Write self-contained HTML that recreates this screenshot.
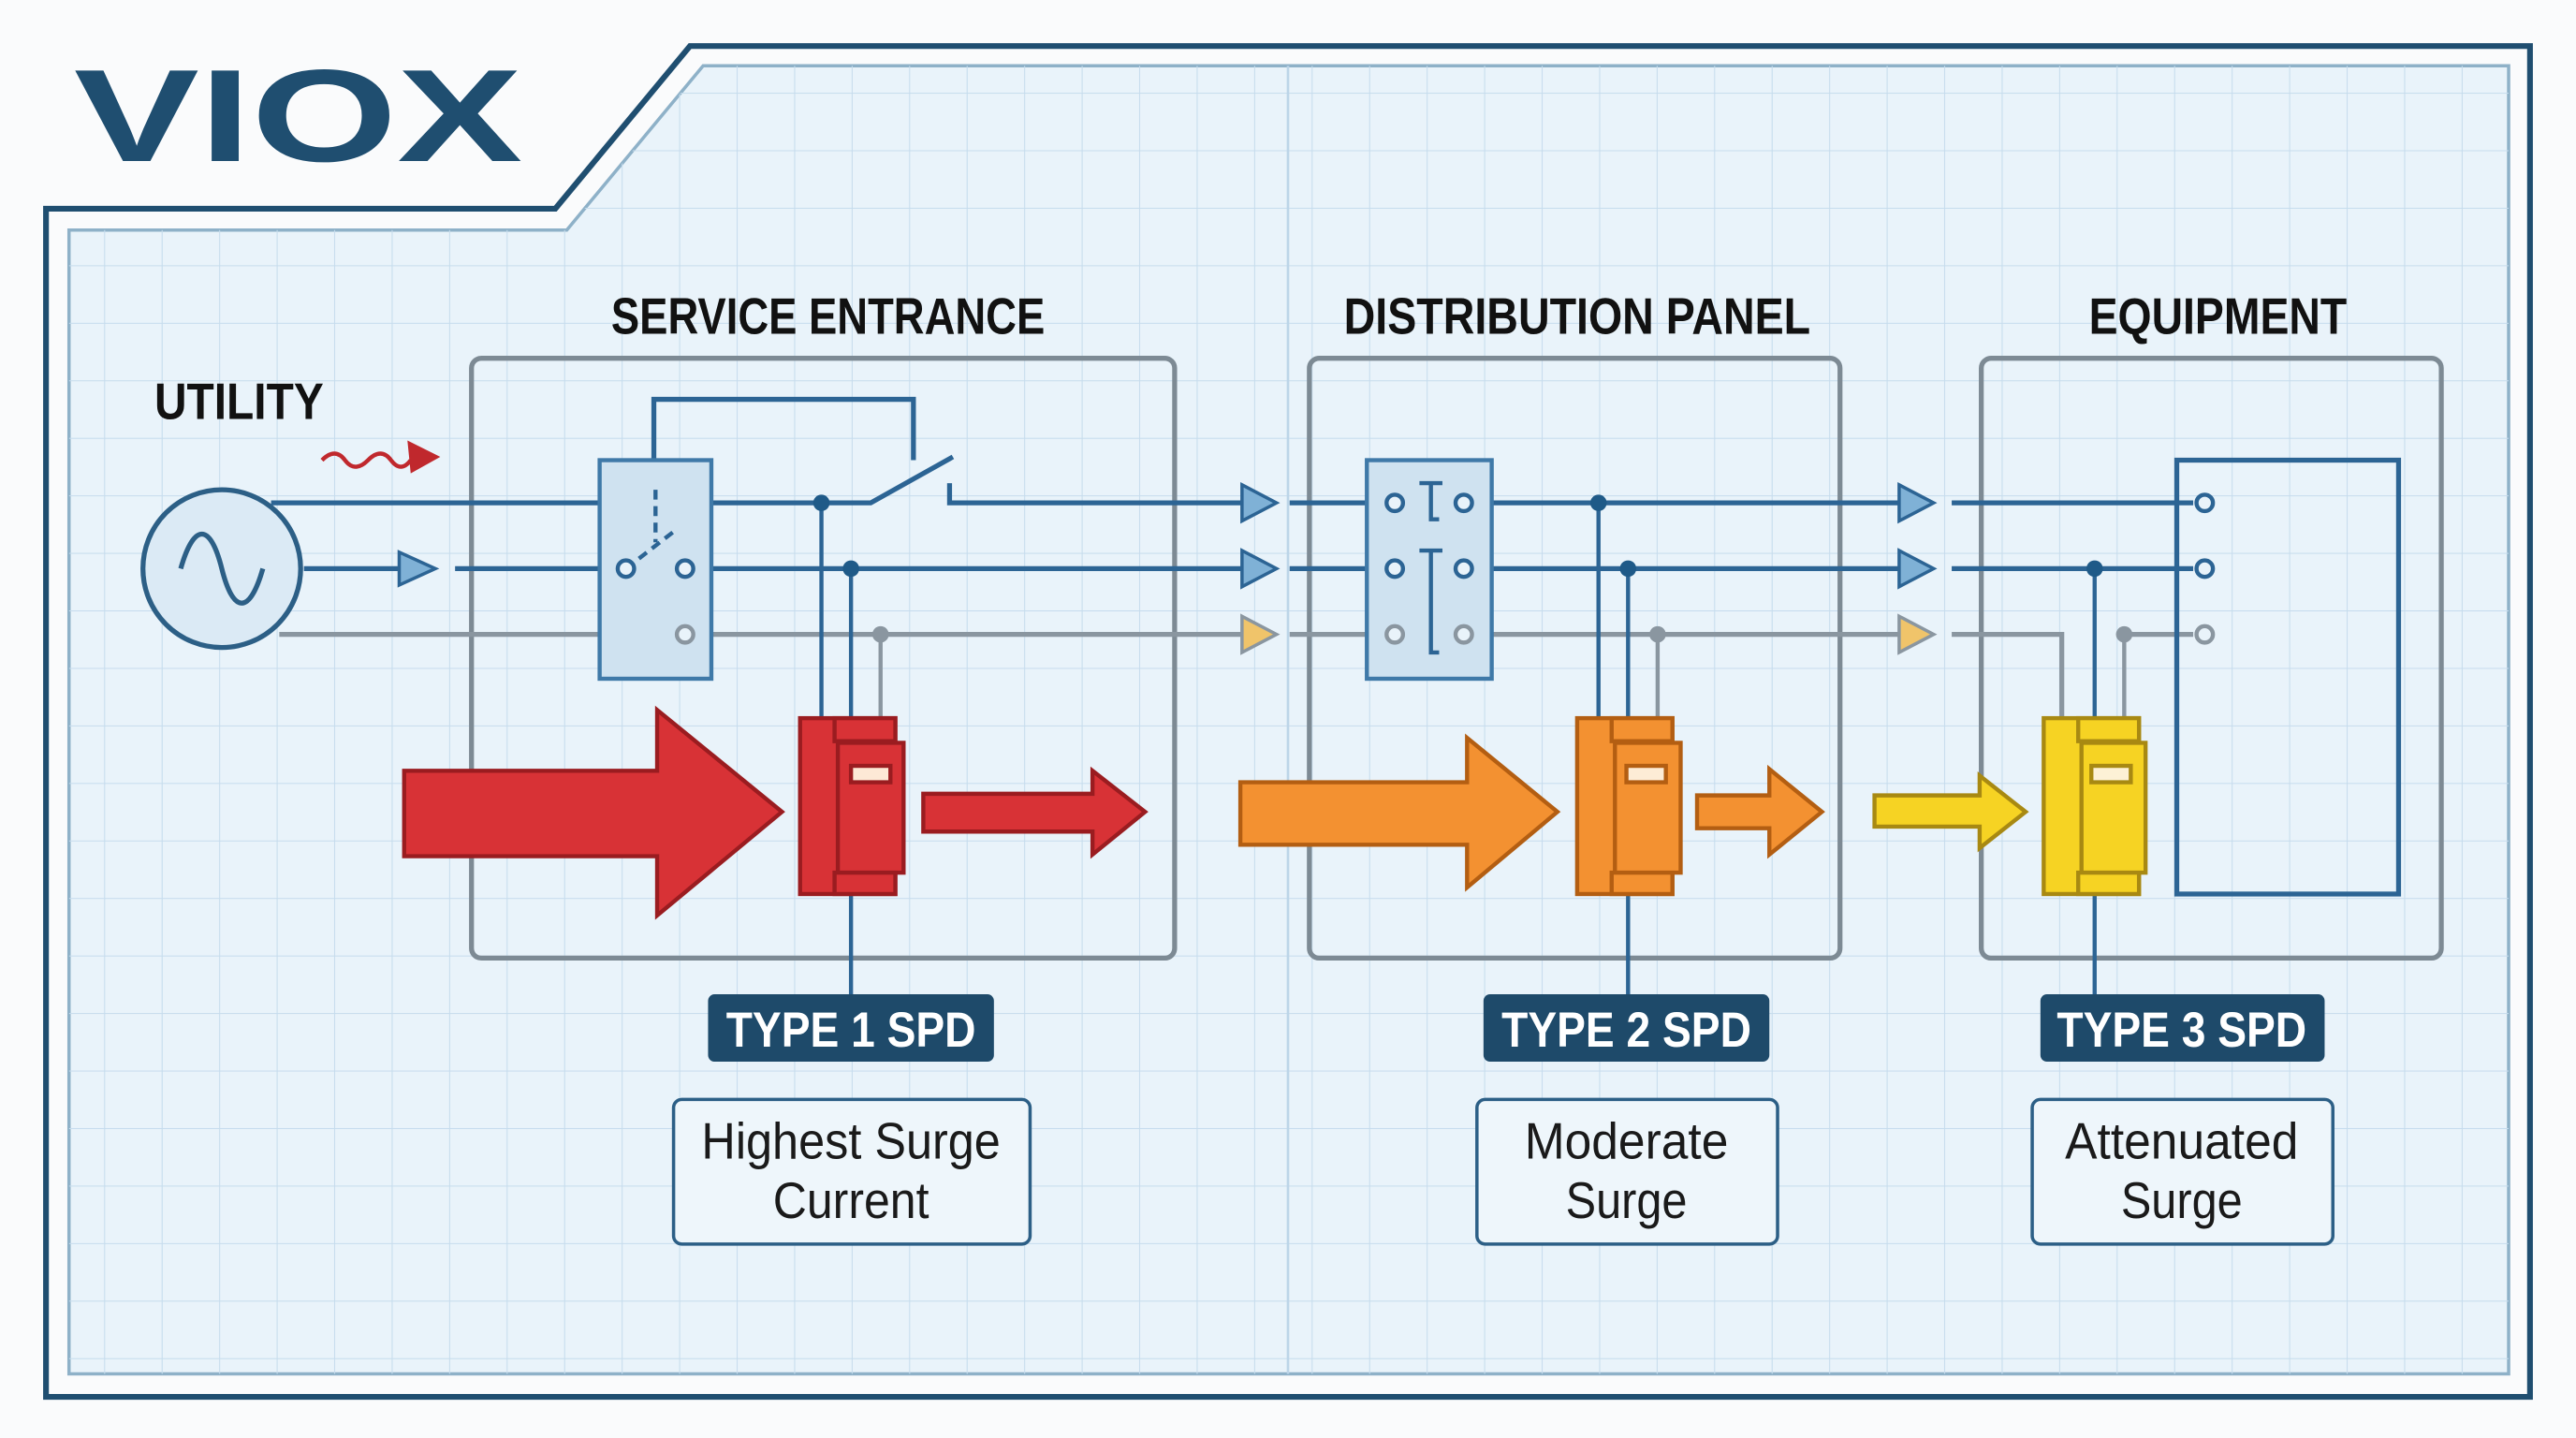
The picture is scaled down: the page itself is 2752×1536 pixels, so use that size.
<!DOCTYPE html>
<html><head><meta charset="utf-8"><style>
html,body{margin:0;padding:0;background:#fafbfc;}
svg{display:block;}
text{font-family:"Liberation Sans Narrow","Liberation Sans",sans-serif;}
</style></head><body>
<svg width="2752" height="1536" viewBox="0 0 1568 875" preserveAspectRatio="none" xmlns="http://www.w3.org/2000/svg">
<defs>
<pattern id="g" x="64" y="22" width="35" height="35" patternUnits="userSpaceOnUse">
<path d="M35 0V35H0" fill="none" stroke="#c6dced" stroke-width="1.2"/>
</pattern>
<clipPath id="ic"><path d="M42 140H345L428 40H1527V836H42Z"/></clipPath>
</defs>
<rect width="1568" height="875" fill="#fafbfc"/>
<path d="M28 850V127H338L420 28H1540V850Z" fill="none" stroke="#1f4e70" stroke-width="3.5"/>
<path d="M42 140H345L428 40H1527V836H42Z" fill="#e9f3fa" stroke="#8eb1c8" stroke-width="2"/>
<g clip-path="url(#ic)">
<rect x="0" y="0" width="1568" height="875" fill="url(#g)"/>
<line x1="784" y1="40" x2="784" y2="836" stroke="#bcd5e8" stroke-width="1.5"/>
</g>
<text x="45" y="98" font-size="80" font-weight="bold" fill="#1f4e70" textLength="273" lengthAdjust="spacingAndGlyphs" style="font-family:'Liberation Sans',sans-serif">VIOX</text>

<g font-weight="bold" fill="#111" font-size="31">
<text x="504" y="203" text-anchor="middle" textLength="264" lengthAdjust="spacingAndGlyphs">SERVICE ENTRANCE</text>
<text x="960" y="203" text-anchor="middle" textLength="284" lengthAdjust="spacingAndGlyphs">DISTRIBUTION PANEL</text>
<text x="1350" y="203" text-anchor="middle" textLength="157" lengthAdjust="spacingAndGlyphs">EQUIPMENT</text>
<text x="94" y="255" textLength="103" lengthAdjust="spacingAndGlyphs">UTILITY</text>
</g>

<g fill="none" stroke="#7d8a94" stroke-width="3">
<rect x="287" y="218" width="428" height="365" rx="6"/>
<rect x="797" y="218" width="323" height="365" rx="6"/>
<rect x="1206" y="218" width="280" height="365" rx="6"/>
</g>

<circle cx="135" cy="346" r="48" fill="#dbeaf5" stroke="#2c5f86" stroke-width="3"/>
<path d="M110 346C118 318 128 318 135 346S152 374 160 346" fill="none" stroke="#2c5f86" stroke-width="3"/>
<path d="M196 280q8-8 14 0t14 0t14 0t12 0" fill="none" stroke="#c0282d" stroke-width="2.5"/>
<path d="M248 268L268 278L250 288Z" fill="#c0282d"/>

<g stroke-width="3" fill="none">
<path d="M165 306H365M433 306H530L580 278M578 294V306H760" stroke="#2c6494"/>
<path d="M185 346H255M277 346H365M425 346H760" stroke="#2c6494"/>
<path d="M170 386H365M425 386H760" stroke="#8a96a0"/>
<path d="M398 280V243H556V280" stroke="#2c6494"/>
<path d="M500 306V437M518 346V437" stroke="#2c6494" stroke-width="2.5"/>
<path d="M536 386V437" stroke="#8a96a0" stroke-width="2.5"/>
<path d="M785 306H832M908 306H1160M785 346H832M908 346H1160" stroke="#2c6494"/>
<path d="M785 386H832M908 386H1160" stroke="#8a96a0"/>
<path d="M973 306V437M991 346V437" stroke="#2c6494" stroke-width="2.5"/>
<path d="M1009 386V437" stroke="#8a96a0" stroke-width="2.5"/>
<path d="M1188 306H1335M1188 346H1335" stroke="#2c6494"/>
<path d="M1188 386H1255V437M1293 386H1335" stroke="#8a96a0"/>
<path d="M1275 346V437" stroke="#2c6494" stroke-width="2.5"/>
<path d="M1293 386V437" stroke="#8a96a0" stroke-width="2.5"/>
<path d="M518 544V605M991 544V605M1275 544V605" stroke="#2c6494" stroke-width="2.5"/>
</g>
<path d="M243 336L265 346L243 356Z" fill="#7fb1d6" stroke="#2c6494" stroke-width="2"/>
<g stroke-width="2">
<path d="M756 295L777 306L756 317Z" fill="#7fb1d6" stroke="#2c6494"/>
<path d="M756 335L777 346L756 357Z" fill="#7fb1d6" stroke="#2c6494"/>
<path d="M756 375L777 386L756 397Z" fill="#f0c46a" stroke="#8a96a0"/>
<path d="M1156 295L1177 306L1156 317Z" fill="#7fb1d6" stroke="#2c6494"/>
<path d="M1156 335L1177 346L1156 357Z" fill="#7fb1d6" stroke="#2c6494"/>
<path d="M1156 375L1177 386L1156 397Z" fill="#f0c46a" stroke="#8a96a0"/>
</g>
<g fill="#1f5a88">
<circle cx="500" cy="306" r="5"/><circle cx="518" cy="346" r="5"/>
<circle cx="973" cy="306" r="5"/><circle cx="991" cy="346" r="5"/>
<circle cx="1275" cy="346" r="5"/>
</g>
<g fill="#8a96a0"><circle cx="536" cy="386" r="5"/><circle cx="1009" cy="386" r="5"/><circle cx="1293" cy="386" r="5"/></g>

<rect x="365" y="280" width="68" height="133" fill="#cfe2f0" stroke="#3f79a8" stroke-width="2.5"/>
<path d="M399 298V330M381 346L412 322" stroke="#2c6494" stroke-width="2.5" stroke-dasharray="6 4" fill="none"/>
<g fill="#e9f3fa" stroke-width="2.5">
<circle cx="381" cy="346" r="5" stroke="#2c6494"/><circle cx="417" cy="346" r="5" stroke="#2c6494"/>
<circle cx="417" cy="386" r="5" stroke="#8a96a0"/>
</g>
<rect x="832" y="280" width="76" height="133" fill="#cfe2f0" stroke="#3f79a8" stroke-width="2.5"/>
<g fill="none" stroke="#2c6494" stroke-width="2.5">
<path d="M864 294H878M871 294V316H876M864 335H878M871 335V397H876"/>
</g>
<g fill="#e9f3fa" stroke-width="2.5">
<circle cx="849" cy="306" r="5" stroke="#2c6494"/><circle cx="891" cy="306" r="5" stroke="#2c6494"/>
<circle cx="849" cy="346" r="5" stroke="#2c6494"/><circle cx="891" cy="346" r="5" stroke="#2c6494"/>
<circle cx="849" cy="386" r="5" stroke="#8a96a0"/><circle cx="891" cy="386" r="5" stroke="#8a96a0"/>
</g>
<rect x="1325" y="280" width="135" height="264" fill="none" stroke="#2c6494" stroke-width="3"/>
<g fill="#e9f3fa" stroke-width="2.5">
<circle cx="1342" cy="306" r="5" stroke="#2c6494"/><circle cx="1342" cy="346" r="5" stroke="#2c6494"/>
<circle cx="1342" cy="386" r="5" stroke="#8a96a0"/>
</g>

<g stroke-width="2.5" stroke-linejoin="miter">
<path d="M246 469H400V432L476 494L400 557V521H246Z" fill="#d83236" stroke="#9a1c20"/>
<path d="M562 483H665V469L697 494L665 520V506H562Z" fill="#d83236" stroke="#9a1c20"/>
<path d="M755 476H893V449L948 494L893 540V514H755Z" fill="#f39131" stroke="#b35e12"/>
<path d="M1033 484H1077V468L1109 494L1077 520V504H1033Z" fill="#f39131" stroke="#b35e12"/>
<path d="M1141 484H1205V472L1233 494L1205 516V503H1141Z" fill="#f6d323" stroke="#a88912"/>
</g>

<g stroke-width="2.5">
<g fill="#d83236" stroke="#9a1c20">
<rect x="487" y="437" width="58" height="107"/>
<rect x="508" y="437" width="37" height="14"/>
<rect x="510" y="452" width="40" height="79"/>
<rect x="508" y="531" width="37" height="13"/>
<rect x="518" y="466" width="24" height="10" fill="#fde9d6"/>
</g>
<g fill="#f39131" stroke="#b35e12">
<rect x="960" y="437" width="58" height="107"/>
<rect x="981" y="437" width="37" height="14"/>
<rect x="983" y="452" width="40" height="79"/>
<rect x="981" y="531" width="37" height="13"/>
<rect x="990" y="466" width="24" height="10" fill="#fdecd6"/>
</g>
<g fill="#f6d323" stroke="#a88912">
<rect x="1244" y="437" width="58" height="107"/>
<rect x="1265" y="437" width="37" height="14"/>
<rect x="1267" y="452" width="39" height="79"/>
<rect x="1265" y="531" width="37" height="13"/>
<rect x="1273" y="466" width="24" height="10" fill="#fdf1d6"/>
</g>
</g>

<g fill="#1e4a6a">
<rect x="431" y="605" width="174" height="41" rx="4"/>
<rect x="903" y="605" width="174" height="41" rx="4"/>
<rect x="1242" y="605" width="173" height="41" rx="4"/>
</g>
<g fill="#fff" font-weight="bold" font-size="30" text-anchor="middle">
<text x="518" y="637" textLength="152" lengthAdjust="spacingAndGlyphs">TYPE 1 SPD</text>
<text x="990" y="637" textLength="152" lengthAdjust="spacingAndGlyphs">TYPE 2 SPD</text>
<text x="1328" y="637" textLength="152" lengthAdjust="spacingAndGlyphs">TYPE 3 SPD</text>
</g>
<g fill="#eef6fb" stroke="#2c5f86" stroke-width="2">
<rect x="410" y="669" width="217" height="88" rx="5"/>
<rect x="899" y="669" width="183" height="88" rx="5"/>
<rect x="1237" y="669" width="183" height="88" rx="5"/>
</g>
<g fill="#1a1a1a" font-size="31" text-anchor="middle">
<text x="518" y="705" textLength="182" lengthAdjust="spacingAndGlyphs">Highest Surge</text>
<text x="518" y="741" textLength="95" lengthAdjust="spacingAndGlyphs">Current</text>
<text x="990" y="705" textLength="124" lengthAdjust="spacingAndGlyphs">Moderate</text>
<text x="990" y="741" textLength="74" lengthAdjust="spacingAndGlyphs">Surge</text>
<text x="1328" y="705" textLength="142" lengthAdjust="spacingAndGlyphs">Attenuated</text>
<text x="1328" y="741" textLength="74" lengthAdjust="spacingAndGlyphs">Surge</text>
</g>
</svg>
</body></html>
